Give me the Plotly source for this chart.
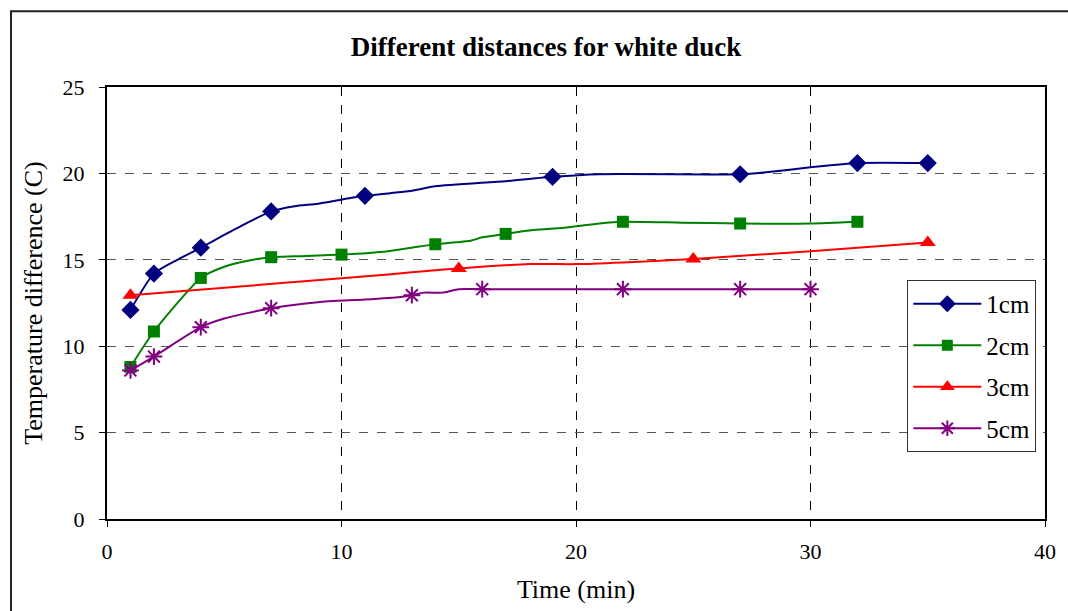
import plotly.graph_objects as go

# ---- data ----
# full line paths (time in min, temperature difference in C)
line_1cm_t = [1, 2, 3, 4, 5.5, 7, 8, 9, 10.5, 11, 13, 14, 17, 19, 21, 27, 28, 30, 32, 35]
line_1cm_v = [12.1, 14.2, 15.0, 15.7, 16.8, 17.8, 18.1, 18.25, 18.6, 18.7, 19.0, 19.25, 19.55, 19.8, 19.95, 19.95, 20.05, 20.35, 20.6, 20.6]
line_2cm_t = [1, 2, 4, 5, 6, 7, 8, 10, 12, 13, 14, 15.5, 16, 17, 18, 19.5, 21, 22, 24.5, 27, 30, 32]
line_2cm_v = [8.8, 10.85, 13.95, 14.6, 14.95, 15.15, 15.2, 15.3, 15.5, 15.7, 15.9, 16.1, 16.3, 16.5, 16.7, 16.85, 17.1, 17.2, 17.15, 17.1, 17.1, 17.2]
line_3cm_t = [1, 12, 14, 15, 18, 20, 22, 25, 30, 35]
line_3cm_v = [12.95, 14.15, 14.4, 14.5, 14.75, 14.75, 14.85, 15.05, 15.5, 16.0]
line_5cm_t = [1, 2, 4, 5, 7, 9, 11, 12.5, 13, 13.5, 14.3, 15, 16, 22, 27, 30]
line_5cm_v = [8.6, 9.4, 11.1, 11.6, 12.2, 12.55, 12.7, 12.85, 12.95, 13.1, 13.1, 13.3, 13.3, 13.3, 13.3, 13.3]

# marked points
mk_1cm_t = [1, 2, 4, 7, 11, 19, 27, 32, 35]
mk_1cm_v = [12.1, 14.2, 15.7, 17.8, 18.7, 19.8, 19.95, 20.6, 20.6]
mk_2cm_t = [1, 2, 4, 7, 10, 14, 17, 22, 27, 32]
mk_2cm_v = [8.8, 10.85, 13.95, 15.15, 15.3, 15.9, 16.5, 17.2, 17.1, 17.2]
mk_3cm_t = [1, 15, 25, 35]
mk_3cm_v = [12.95, 14.5, 15.05, 16.0]
mk_5cm_t = [1, 2, 4, 7, 13, 16, 22, 27, 30]
mk_5cm_v = [8.6, 9.4, 11.1, 12.2, 12.95, 13.3, 13.3, 13.3, 13.3]

series_names = ["1cm", "2cm", "3cm", "5cm"]
x_ticks = [0, 10, 20, 30, 40]
y_ticks = [0, 5, 10, 15, 20, 25]

colors = ["#000080", "#008000", "#FF0000", "#800080"]
symbols = ["diamond", "square", "triangle-up", "asterisk"]
msizes = [14, 12, 14, 14]

lines = [(line_1cm_t, line_1cm_v), (line_2cm_t, line_2cm_v),
         (line_3cm_t, line_3cm_v), (line_5cm_t, line_5cm_v)]
marks = [(mk_1cm_t, mk_1cm_v), (mk_2cm_t, mk_2cm_v),
         (mk_3cm_t, mk_3cm_v), (mk_5cm_t, mk_5cm_v)]

FONT = "Liberation Serif, Times New Roman, serif"

fig = go.Figure()
for i, name in enumerate(series_names):
    c = colors[i]
    lt, lv = lines[i]
    fig.add_trace(go.Scatter(x=lt, y=lv, mode="lines",
                             line=dict(color=c, width=2, shape="spline", smoothing=0.6),
                             showlegend=False, hoverinfo="skip"))
    mt, mv = marks[i]
    mline = dict(color=c, width=2) if symbols[i] == "asterisk" else dict(width=0)
    fig.add_trace(go.Scatter(x=mt, y=mv, mode="markers",
                             marker=dict(symbol=symbols[i], size=msizes[i], color=c, line=mline),
                             showlegend=False))
    # legend entry
    fig.add_trace(go.Scatter(x=[None], y=[None], mode="lines+markers", name=name,
                             legendgroup=name,
                             line=dict(color=c, width=2),
                             marker=dict(symbol=symbols[i], size=msizes[i] - 1, color=c, line=mline)))

# outer chart border
L, R, T, B = 106.7, 1051.7, 86.7, 521.7
W, H = R - L, B - T
fig.add_shape(type="rect", xref="paper", yref="paper",
              x0=(10 - L) / W, x1=(1080 - L) / W,
              y0=(B - 620) / H, y1=(B - 10.5) / H,
              line=dict(color="#222222", width=2), fillcolor="rgba(0,0,0,0)", layer="below")

fig.update_layout(
    width=1068, height=611,
    margin=dict(l=L, r=1068 - R, t=T, b=611 - B),
    paper_bgcolor="white", plot_bgcolor="white",
    font=dict(family=FONT, size=22, color="black"),
    title=dict(text="<b>Different distances for white duck</b>",
               font=dict(family=FONT, size=27, color="black"),
               x=546 / 1068, xanchor="center", y=1 - 47 / 611, yanchor="middle"),
    showlegend=True,
    legend=dict(x=(913 - L) / W, y=(B - 281) / H, xanchor="left", yanchor="top",
                bgcolor="white", bordercolor="#333333", borderwidth=1,
                font=dict(family=FONT, size=25, color="black"),
                tracegroupgap=6, itemwidth=68),
)

fig.update_xaxes(range=[0, 40], tickvals=x_ticks, ticktext=[str(v) for v in x_ticks],
                 showgrid=True, gridcolor="black", gridwidth=1, griddash="dash",
                 showline=True, linecolor="black", linewidth=2, mirror=True,
                 ticks="outside", ticklen=6, tickcolor="black", zeroline=False,
                 ticklabelstandoff=6,
                 tickfont=dict(family=FONT, size=22),
                 title=dict(text="Time (min)", font=dict(family=FONT, size=26), standoff=16))
fig.update_yaxes(range=[0, 25], tickvals=y_ticks, ticktext=[str(v) for v in y_ticks],
                 showgrid=True, gridcolor="#555555", gridwidth=1, griddash="dash",
                 showline=True, linecolor="black", linewidth=2, mirror=True,
                 ticks="outside", ticklen=6, tickcolor="black", zeroline=False,
                 ticklabelstandoff=10,
                 tickfont=dict(family=FONT, size=22),
                 title=dict(text="Temperature difference (C)", font=dict(family=FONT, size=26), standoff=12))

fig.write_html("out.html")
